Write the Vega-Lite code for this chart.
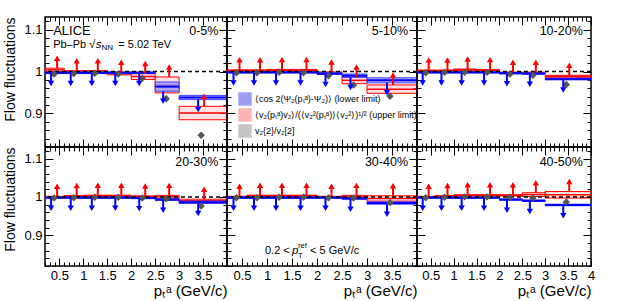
{
"$schema": "https://vega.github.io/schema/vega-lite/v6.json",
"padding": {"left": 3, "top": 14, "right": 0, "bottom": 0},
"datasets": {"d": [
{"c":"0-5%","lo":0.2,"hi":0.6,"x":0.39,"b":0.997,"bl":0.995,"bh":0.999,"r":1.004,"rl":1.0,"rh":1.008,"g":0.994},
{"c":"0-5%","lo":0.6,"hi":1.0,"x":0.8,"b":0.997,"bl":0.995,"bh":0.999,"r":1.0,"rl":0.998,"rh":1.002,"g":0.995},
{"c":"0-5%","lo":1.0,"hi":1.5,"x":1.24,"b":0.997,"bl":0.995,"bh":0.999,"r":1.0,"rl":0.998,"rh":1.002,"g":0.996},
{"c":"0-5%","lo":1.5,"hi":2.0,"x":1.73,"b":0.997,"bl":0.995,"bh":0.999,"r":0.995,"rl":0.992,"rh":0.998,"g":0.994},
{"c":"0-5%","lo":2.0,"hi":2.5,"x":2.23,"b":0.997,"bl":0.995,"bh":0.999,"r":0.988,"rl":0.981,"rh":0.995,"g":0.984},
{"c":"0-5%","lo":2.5,"hi":3.0,"x":2.73,"b":0.964,"bl":0.953,"bh":0.975,"r":0.968,"rl":0.949,"rh":0.987,"g":0.935},
{"c":"0-5%","lo":3.0,"hi":4.0,"x":3.46,"b":0.938,"bl":0.933,"bh":0.943,"r":0.901,"rl":0.885,"rh":0.917,"g":0.848},
{"c":"5-10%","lo":0.2,"hi":0.6,"x":0.39,"b":0.998,"bl":0.9965,"bh":0.9995,"r":1.002,"rl":1.0,"rh":1.004,"g":0.997},
{"c":"5-10%","lo":0.6,"hi":1.0,"x":0.8,"b":0.998,"bl":0.9965,"bh":0.9995,"r":1.002,"rl":1.0,"rh":1.004,"g":0.997},
{"c":"5-10%","lo":1.0,"hi":1.5,"x":1.24,"b":0.998,"bl":0.9965,"bh":0.9995,"r":1.003,"rl":1.001,"rh":1.005,"g":0.998},
{"c":"5-10%","lo":1.5,"hi":2.0,"x":1.73,"b":0.998,"bl":0.9965,"bh":0.9995,"r":1.003,"rl":1.001,"rh":1.005,"g":0.997},
{"c":"5-10%","lo":2.0,"hi":2.5,"x":2.23,"b":0.995,"bl":0.993,"bh":0.997,"r":0.996,"rl":0.993,"rh":0.999,"g":0.99},
{"c":"5-10%","lo":2.5,"hi":3.0,"x":2.73,"b":0.99,"bl":0.986,"bh":0.994,"r":0.979,"rl":0.971,"rh":0.987,"g":0.968},
{"c":"5-10%","lo":3.0,"hi":4.0,"x":3.46,"b":0.979,"bl":0.973,"bh":0.985,"r":0.958,"rl":0.948,"rh":0.968,"g":0.941},
{"c":"10-20%","lo":0.2,"hi":0.6,"x":0.39,"b":0.998,"bl":0.9965,"bh":0.9995,"r":1.002,"rl":1.0005,"rh":1.0035,"g":0.997},
{"c":"10-20%","lo":0.6,"hi":1.0,"x":0.8,"b":0.998,"bl":0.9965,"bh":0.9995,"r":1.002,"rl":1.0005,"rh":1.0035,"g":0.998},
{"c":"10-20%","lo":1.0,"hi":1.5,"x":1.24,"b":0.998,"bl":0.9965,"bh":0.9995,"r":1.004,"rl":1.002,"rh":1.006,"g":0.998},
{"c":"10-20%","lo":1.5,"hi":2.0,"x":1.73,"b":0.998,"bl":0.9965,"bh":0.9995,"r":1.003,"rl":1.0015,"rh":1.0045,"g":0.998},
{"c":"10-20%","lo":2.0,"hi":2.5,"x":2.23,"b":0.996,"bl":0.9945,"bh":0.9975,"r":0.997,"rl":0.9955,"rh":0.9985,"g":0.994},
{"c":"10-20%","lo":2.5,"hi":3.0,"x":2.73,"b":0.995,"bl":0.9935,"bh":0.9965,"r":0.997,"rl":0.9955,"rh":0.9985,"g":0.991},
{"c":"10-20%","lo":3.0,"hi":4.0,"x":3.46,"b":0.982,"bl":0.98,"bh":0.984,"r":0.988,"rl":0.985,"rh":0.991,"g":0.969},
{"c":"20-30%","lo":0.2,"hi":0.6,"x":0.39,"b":0.998,"bl":0.9965,"bh":0.9995,"r":1.0,"rl":0.9985,"rh":1.0015,"g":0.997},
{"c":"20-30%","lo":0.6,"hi":1.0,"x":0.8,"b":0.998,"bl":0.9965,"bh":0.9995,"r":1.002,"rl":1.0005,"rh":1.0035,"g":0.998},
{"c":"20-30%","lo":1.0,"hi":1.5,"x":1.24,"b":0.998,"bl":0.9965,"bh":0.9995,"r":1.003,"rl":1.0015,"rh":1.0045,"g":0.999},
{"c":"20-30%","lo":1.5,"hi":2.0,"x":1.73,"b":0.998,"bl":0.9965,"bh":0.9995,"r":1.003,"rl":1.0015,"rh":1.0045,"g":0.999},
{"c":"20-30%","lo":2.0,"hi":2.5,"x":2.23,"b":0.997,"bl":0.9955,"bh":0.9985,"r":1.001,"rl":0.9995,"rh":1.0025,"g":0.997},
{"c":"20-30%","lo":2.5,"hi":3.0,"x":2.73,"b":0.993,"bl":0.991,"bh":0.995,"r":1.0,"rl":0.996,"rh":1.004,"g":0.995},
{"c":"20-30%","lo":3.0,"hi":4.0,"x":3.46,"b":0.986,"bl":0.983,"bh":0.989,"r":0.99,"rl":0.986,"rh":0.994,"g":0.976},
{"c":"30-40%","lo":0.2,"hi":0.6,"x":0.39,"b":0.998,"bl":0.9965,"bh":0.9995,"r":1.0,"rl":0.9985,"rh":1.0015,"g":0.998},
{"c":"30-40%","lo":0.6,"hi":1.0,"x":0.8,"b":0.998,"bl":0.9965,"bh":0.9995,"r":1.003,"rl":1.0015,"rh":1.0045,"g":0.998},
{"c":"30-40%","lo":1.0,"hi":1.5,"x":1.24,"b":0.998,"bl":0.9965,"bh":0.9995,"r":1.003,"rl":1.0015,"rh":1.0045,"g":0.999},
{"c":"30-40%","lo":1.5,"hi":2.0,"x":1.73,"b":0.998,"bl":0.9965,"bh":0.9995,"r":1.003,"rl":1.0015,"rh":1.0045,"g":0.999},
{"c":"30-40%","lo":2.0,"hi":2.5,"x":2.23,"b":0.998,"bl":0.9965,"bh":0.9995,"r":1.0,"rl":0.9985,"rh":1.0015,"g":0.998},
{"c":"30-40%","lo":2.5,"hi":3.0,"x":2.73,"b":0.996,"bl":0.994,"bh":0.998,"r":1.0,"rl":0.996,"rh":1.004,"g":0.997},
{"c":"30-40%","lo":3.0,"hi":4.0,"x":3.46,"b":0.984,"bl":0.981,"bh":0.987,"r":0.996,"rl":0.989,"rh":1.003,"g":0.985},
{"c":"40-50%","lo":0.2,"hi":0.6,"x":0.39,"b":0.998,"bl":0.9965,"bh":0.9995,"r":1.0,"rl":0.9985,"rh":1.0015,"g":0.998},
{"c":"40-50%","lo":0.6,"hi":1.0,"x":0.8,"b":0.998,"bl":0.9965,"bh":0.9995,"r":1.002,"rl":1.0005,"rh":1.0035,"g":0.999},
{"c":"40-50%","lo":1.0,"hi":1.5,"x":1.24,"b":0.998,"bl":0.9965,"bh":0.9995,"r":1.004,"rl":1.0025,"rh":1.0055,"g":1.0},
{"c":"40-50%","lo":1.5,"hi":2.0,"x":1.73,"b":0.998,"bl":0.9965,"bh":0.9995,"r":1.004,"rl":1.0025,"rh":1.0055,"g":1.0},
{"c":"40-50%","lo":2.0,"hi":2.5,"x":2.23,"b":0.993,"bl":0.9915,"bh":0.9945,"r":1.004,"rl":1.0025,"rh":1.0055,"g":0.999},
{"c":"40-50%","lo":2.5,"hi":3.0,"x":2.73,"b":0.99,"bl":0.988,"bh":0.992,"r":1.006,"rl":1.001,"rh":1.011,"g":0.997},
{"c":"40-50%","lo":3.0,"hi":4.0,"x":3.46,"b":0.979,"bl":0.977,"bh":0.981,"r":1.0055,"rl":0.997,"rh":1.014,"g":0.987}
]},
"columns": 3,
"spacing": 0,
"bounds": "flush",
"resolve": {"scale": {"x": "independent", "y": "independent", "fill": "shared"}, "axis": {"x": "independent", "y": "independent"}, "legend": {"fill": "shared"}},
"concat": [
{
 "width": 182, "height": 130,
 "data": {"name": "d"},
 "transform": [{"filter": "datum.c == '0-5%'"}],
 "resolve": {"axis": {"x": "independent", "y": "independent"}},
 "layer": [
  {"mark": {"type": "rect", "stroke": "#ff0000", "strokeWidth": 1, "fillOpacity": 0.4},
   "encoding": {
    "x": {"field": "lo", "type": "quantitative", "scale": {"domain": [0.2, 4.0], "nice": false, "zero": false}, "axis": {"orient": "bottom", "values": [0.2,0.3,0.4,0.5,0.6,0.7,0.8,0.9,1.0,1.1,1.2,1.3,1.4,1.5,1.6,1.7,1.8,1.9,2.0,2.1,2.2,2.3,2.4,2.5,2.6,2.7,2.8,2.9,3.0,3.1,3.2,3.3,3.4,3.5,3.6,3.7,3.8,3.9,4.0], "tickSize": {"condition": {"test": "abs(datum.value*2-round(datum.value*2))<0.01", "value": -8}, "value": -4}, "labels": false, "title": null}},
    "x2": {"field": "hi"},
    "y": {"field": "rl", "type": "quantitative", "scale": {"domain": [0.82, 1.13], "nice": false, "zero": false}, "axis": {"orient": "left", "values": [0.82,0.84,0.86,0.88,0.9,0.92,0.94,0.96,0.98,1.0,1.02,1.04,1.06,1.08,1.1,1.12], "tickSize": {"condition": {"test": "abs(datum.value*10-round(datum.value*10))<0.01", "value": -8}, "value": -4}, "labelExpr": "abs(datum.value*10-round(datum.value*10))<0.01 ? format(datum.value,'~g') : ''", "labelPadding": 11, "title": "Flow fluctuations", "titleAnchor": "end", "titlePadding": 6}},
    "y2": {"field": "rh"},
    "fill": {"datum": "B", "scale": {"domain": ["A","B","C"], "range": ["#9d9df2","#ffb3b3","#c4c4c4"]}, "legend": {"title": null, "symbolType": "square", "symbolSize": 180, "symbolStrokeWidth": 0, "orient": "none", "legendX": 193, "legendY": 75, "labelFontSize": 9, "labelLimit": 400, "rowPadding": 2, "padding": 0, "labelOffset": 3, "labelExpr": "datum.label == 'A' ? '⟨cos 2(Ψ₂(pₜᵃ)-Ψ₂)⟩ (lower limit)' : datum.label == 'B' ? '⟨v₂(pₜᵃ)v₂⟩/(⟨v₂²(pₜᵃ)⟩⟨v₂²⟩)¹/² (upper limit)' : 'v₂{2}/v₂[2]'"}}}},
  {"mark": {"type": "rule", "color": "#ff0000", "strokeWidth": 1.5},
   "encoding": {
    "x": {"field": "lo", "type": "quantitative", "axis": {"orient": "top", "values": [0.2,0.3,0.4,0.5,0.6,0.7,0.8,0.9,1.0,1.1,1.2,1.3,1.4,1.5,1.6,1.7,1.8,1.9,2.0,2.1,2.2,2.3,2.4,2.5,2.6,2.7,2.8,2.9,3.0,3.1,3.2,3.3,3.4,3.5,3.6,3.7,3.8,3.9,4.0], "tickSize": {"condition": {"test": "abs(datum.value*2-round(datum.value*2))<0.01", "value": -8}, "value": -4}, "labels": false, "title": null}},
    "x2": {"field": "hi"},
    "y": {"field": "r", "type": "quantitative", "axis": {"orient": "right", "values": [0.82,0.84,0.86,0.88,0.9,0.92,0.94,0.96,0.98,1.0,1.02,1.04,1.06,1.08,1.1,1.12], "tickSize": {"condition": {"test": "abs(datum.value*10-round(datum.value*10))<0.01", "value": -8}, "value": -4}, "labels": false, "title": null}}}},
  {"mark": {"type": "rect", "stroke": "#4040ff", "strokeWidth": 1, "fillOpacity": 0.8},
   "encoding": {"x": {"field": "lo", "type": "quantitative", "axis": null}, "x2": {"field": "hi"}, "y": {"field": "bl", "type": "quantitative", "axis": null}, "y2": {"field": "bh"}, "fill": {"datum": "A", "scale": {"domain": ["A","B","C"], "range": ["#9d9df2","#ffb3b3","#c4c4c4"]}, "legend": {"title": null, "symbolType": "square", "symbolSize": 180, "symbolStrokeWidth": 0, "orient": "none", "legendX": 193, "legendY": 75, "labelFontSize": 9, "labelLimit": 400, "rowPadding": 2, "padding": 0, "labelOffset": 3, "labelExpr": "datum.label == 'A' ? '⟨cos 2(Ψ₂(pₜᵃ)-Ψ₂)⟩ (lower limit)' : datum.label == 'B' ? '⟨v₂(pₜᵃ)v₂⟩/(⟨v₂²(pₜᵃ)⟩⟨v₂²⟩)¹/² (upper limit)' : 'v₂{2}/v₂[2]'"}}}},
  {"mark": {"type": "rule", "color": "#0000ff", "strokeWidth": 2},
   "encoding": {"x": {"field": "lo", "type": "quantitative", "axis": null}, "x2": {"field": "hi"}, "y": {"field": "b", "type": "quantitative", "axis": null}}},
  {"transform": [{"filter": "datum.lo == 0.2"}], "mark": {"type": "rule", "color": "black", "strokeWidth": 1.5, "strokeDash": [4, 3]},
   "encoding": {"y": {"datum": 1, "type": "quantitative", "axis": null}}},
  {"mark": {"type": "point", "shape": "diamond", "filled": true, "size": 55, "color": "#555555", "opacity": 1},
   "encoding": {"x": {"field": "x", "type": "quantitative", "axis": null}, "y": {"field": "g", "type": "quantitative", "axis": null}}},
  {"mark": {"type": "rule", "color": "#0000ff", "strokeWidth": 2, "xOffset": -3, "y2Offset": 10},
   "encoding": {"x": {"field": "x", "type": "quantitative", "axis": null}, "y": {"field": "bl", "type": "quantitative", "axis": null}, "y2": {"field": "bl"}}},
  {"mark": {"type": "point", "shape": "triangle-down", "filled": true, "size": 40, "color": "#0000ff", "opacity": 1, "xOffset": -3, "yOffset": 10},
   "encoding": {"x": {"field": "x", "type": "quantitative", "axis": null}, "y": {"field": "bl", "type": "quantitative", "axis": null}}},
  {"mark": {"type": "rule", "color": "#ff0000", "strokeWidth": 2, "xOffset": 3, "y2Offset": -10},
   "encoding": {"x": {"field": "x", "type": "quantitative", "axis": null}, "y": {"field": "rh", "type": "quantitative", "axis": null}, "y2": {"field": "rh"}}},
  {"mark": {"type": "point", "shape": "triangle-up", "filled": true, "size": 40, "color": "#ff0000", "opacity": 1, "xOffset": 3, "yOffset": -10},
   "encoding": {"x": {"field": "x", "type": "quantitative", "axis": null}, "y": {"field": "rh", "type": "quantitative", "axis": null}}},
  {"transform": [{"filter": "datum.lo == 0.2"}], "mark": {"type": "text", "align": "right", "baseline": "middle", "fontSize": 12.5},
   "encoding": {"x": {"datum": 3.82, "type": "quantitative", "axis": null}, "y": {"datum": 1.097, "type": "quantitative", "axis": null}, "text": {"field": "c"}}},
  {"transform": [{"filter": "datum.lo == 0.2"}], "mark": {"type": "text", "align": "left", "baseline": "middle", "fontSize": 13},
   "encoding": {"x": {"datum": 0.37, "type": "quantitative", "axis": null}, "y": {"datum": 1.097, "type": "quantitative", "axis": null}, "text": {"value": "ALICE"}}},
  {"transform": [{"filter": "datum.lo == 0.2"}], "mark": {"type": "text", "align": "left", "baseline": "middle", "fontSize": 11},
   "encoding": {"x": {"datum": 0.37, "type": "quantitative", "axis": null}, "y": {"datum": 1.063, "type": "quantitative", "axis": null}, "text": {"value": "Pb–Pb"}}},
  {"transform": [{"filter": "datum.lo == 0.2"}], "mark": {"type": "text", "align": "left", "baseline": "middle", "fontSize": 11.5},
   "encoding": {"x": {"datum": 1.12, "type": "quantitative", "axis": null}, "y": {"datum": 1.063, "type": "quantitative", "axis": null}, "text": {"value": "√"}}},
  {"transform": [{"filter": "datum.lo == 0.2"}], "mark": {"type": "text", "align": "left", "baseline": "middle", "fontSize": 11.5, "fontStyle": "italic"},
   "encoding": {"x": {"datum": 1.26, "type": "quantitative", "axis": null}, "y": {"datum": 1.063, "type": "quantitative", "axis": null}, "text": {"value": "s"}}},
  {"transform": [{"filter": "datum.lo == 0.2"}], "mark": {"type": "text", "align": "left", "baseline": "middle", "fontSize": 8, "dy": 3},
   "encoding": {"x": {"datum": 1.38, "type": "quantitative", "axis": null}, "y": {"datum": 1.063, "type": "quantitative", "axis": null}, "text": {"value": "NN"}}},
  {"transform": [{"filter": "datum.lo == 0.2"}], "mark": {"type": "text", "align": "left", "baseline": "middle", "fontSize": 11},
   "encoding": {"x": {"datum": 1.73, "type": "quantitative", "axis": null}, "y": {"datum": 1.063, "type": "quantitative", "axis": null}, "text": {"value": "= 5.02 TeV"}}}
 ]
},
{
 "width": 190, "height": 130,
 "data": {"name": "d"},
 "transform": [{"filter": "datum.c == '5-10%'"}],
 "resolve": {"axis": {"x": "independent", "y": "independent"}},
 "layer": [
  {"mark": {"type": "rect", "stroke": "#ff0000", "strokeWidth": 1, "fillOpacity": 0.4},
   "encoding": {
    "x": {"field": "lo", "type": "quantitative", "scale": {"domain": [0.2, 4.0], "nice": false, "zero": false}, "axis": {"orient": "bottom", "values": [0.2,0.3,0.4,0.5,0.6,0.7,0.8,0.9,1.0,1.1,1.2,1.3,1.4,1.5,1.6,1.7,1.8,1.9,2.0,2.1,2.2,2.3,2.4,2.5,2.6,2.7,2.8,2.9,3.0,3.1,3.2,3.3,3.4,3.5,3.6,3.7,3.8,3.9,4.0], "tickSize": {"condition": {"test": "abs(datum.value*2-round(datum.value*2))<0.01", "value": -8}, "value": -4}, "labels": false, "title": null}},
    "x2": {"field": "hi"},
    "y": {"field": "rl", "type": "quantitative", "scale": {"domain": [0.82, 1.13], "nice": false, "zero": false}, "axis": {"orient": "left", "values": [0.82,0.84,0.86,0.88,0.9,0.92,0.94,0.96,0.98,1.0,1.02,1.04,1.06,1.08,1.1,1.12], "tickSize": {"condition": {"test": "abs(datum.value*10-round(datum.value*10))<0.01", "value": -8}, "value": -4}, "labels": false, "title": null}},
    "y2": {"field": "rh"},
    "fill": {"datum": "B", "scale": {"domain": ["A","B","C"], "range": ["#9d9df2","#ffb3b3","#c4c4c4"]}, "legend": {"title": null, "symbolType": "square", "symbolSize": 180, "symbolStrokeWidth": 0, "orient": "none", "legendX": 193, "legendY": 75, "labelFontSize": 9, "labelLimit": 400, "rowPadding": 2, "padding": 0, "labelOffset": 3, "labelExpr": "datum.label == 'A' ? '⟨cos 2(Ψ₂(pₜᵃ)-Ψ₂)⟩ (lower limit)' : datum.label == 'B' ? '⟨v₂(pₜᵃ)v₂⟩/(⟨v₂²(pₜᵃ)⟩⟨v₂²⟩)¹/² (upper limit)' : 'v₂{2}/v₂[2]'"}}}},
  {"mark": {"type": "rule", "color": "#ff0000", "strokeWidth": 1.5},
   "encoding": {
    "x": {"field": "lo", "type": "quantitative", "axis": {"orient": "top", "values": [0.2,0.3,0.4,0.5,0.6,0.7,0.8,0.9,1.0,1.1,1.2,1.3,1.4,1.5,1.6,1.7,1.8,1.9,2.0,2.1,2.2,2.3,2.4,2.5,2.6,2.7,2.8,2.9,3.0,3.1,3.2,3.3,3.4,3.5,3.6,3.7,3.8,3.9,4.0], "tickSize": {"condition": {"test": "abs(datum.value*2-round(datum.value*2))<0.01", "value": -8}, "value": -4}, "labels": false, "title": null}},
    "x2": {"field": "hi"},
    "y": {"field": "r", "type": "quantitative", "axis": {"orient": "right", "values": [0.82,0.84,0.86,0.88,0.9,0.92,0.94,0.96,0.98,1.0,1.02,1.04,1.06,1.08,1.1,1.12], "tickSize": {"condition": {"test": "abs(datum.value*10-round(datum.value*10))<0.01", "value": -8}, "value": -4}, "labels": false, "title": null}}}},
  {"mark": {"type": "rect", "stroke": "#4040ff", "strokeWidth": 1, "fillOpacity": 0.8},
   "encoding": {"x": {"field": "lo", "type": "quantitative", "axis": null}, "x2": {"field": "hi"}, "y": {"field": "bl", "type": "quantitative", "axis": null}, "y2": {"field": "bh"}, "fill": {"datum": "A", "scale": {"domain": ["A","B","C"], "range": ["#9d9df2","#ffb3b3","#c4c4c4"]}, "legend": {"title": null, "symbolType": "square", "symbolSize": 180, "symbolStrokeWidth": 0, "orient": "none", "legendX": 193, "legendY": 75, "labelFontSize": 9, "labelLimit": 400, "rowPadding": 2, "padding": 0, "labelOffset": 3, "labelExpr": "datum.label == 'A' ? '⟨cos 2(Ψ₂(pₜᵃ)-Ψ₂)⟩ (lower limit)' : datum.label == 'B' ? '⟨v₂(pₜᵃ)v₂⟩/(⟨v₂²(pₜᵃ)⟩⟨v₂²⟩)¹/² (upper limit)' : 'v₂{2}/v₂[2]'"}}}},
  {"mark": {"type": "rule", "color": "#0000ff", "strokeWidth": 2},
   "encoding": {"x": {"field": "lo", "type": "quantitative", "axis": null}, "x2": {"field": "hi"}, "y": {"field": "b", "type": "quantitative", "axis": null}}},
  {"transform": [{"filter": "datum.lo == 0.2"}], "mark": {"type": "rule", "color": "black", "strokeWidth": 1.5, "strokeDash": [4, 3]},
   "encoding": {"y": {"datum": 1, "type": "quantitative", "axis": null}}},
  {"mark": {"type": "point", "shape": "diamond", "filled": true, "size": 55, "color": "#555555", "opacity": 1},
   "encoding": {"x": {"field": "x", "type": "quantitative", "axis": null}, "y": {"field": "g", "type": "quantitative", "axis": null}}},
  {"mark": {"type": "rule", "color": "#0000ff", "strokeWidth": 2, "xOffset": -3, "y2Offset": 10},
   "encoding": {"x": {"field": "x", "type": "quantitative", "axis": null}, "y": {"field": "bl", "type": "quantitative", "axis": null}, "y2": {"field": "bl"}}},
  {"mark": {"type": "point", "shape": "triangle-down", "filled": true, "size": 40, "color": "#0000ff", "opacity": 1, "xOffset": -3, "yOffset": 10},
   "encoding": {"x": {"field": "x", "type": "quantitative", "axis": null}, "y": {"field": "bl", "type": "quantitative", "axis": null}}},
  {"mark": {"type": "rule", "color": "#ff0000", "strokeWidth": 2, "xOffset": 3, "y2Offset": -10},
   "encoding": {"x": {"field": "x", "type": "quantitative", "axis": null}, "y": {"field": "rh", "type": "quantitative", "axis": null}, "y2": {"field": "rh"}}},
  {"mark": {"type": "point", "shape": "triangle-up", "filled": true, "size": 40, "color": "#ff0000", "opacity": 1, "xOffset": 3, "yOffset": -10},
   "encoding": {"x": {"field": "x", "type": "quantitative", "axis": null}, "y": {"field": "rh", "type": "quantitative", "axis": null}}},
  {"transform": [{"filter": "datum.lo == 0.2"}], "mark": {"type": "text", "align": "right", "baseline": "middle", "fontSize": 12.5},
   "encoding": {"x": {"datum": 3.82, "type": "quantitative", "axis": null}, "y": {"datum": 1.097, "type": "quantitative", "axis": null}, "text": {"field": "c"}}}
 ]
},
{
 "width": 174, "height": 130,
 "data": {"name": "d"},
 "transform": [{"filter": "datum.c == '10-20%'"}],
 "resolve": {"axis": {"x": "independent", "y": "independent"}},
 "layer": [
  {"mark": {"type": "rect", "stroke": "#ff0000", "strokeWidth": 1, "fillOpacity": 0.4},
   "encoding": {
    "x": {"field": "lo", "type": "quantitative", "scale": {"domain": [0.2, 4.0], "nice": false, "zero": false}, "axis": {"orient": "bottom", "values": [0.2,0.3,0.4,0.5,0.6,0.7,0.8,0.9,1.0,1.1,1.2,1.3,1.4,1.5,1.6,1.7,1.8,1.9,2.0,2.1,2.2,2.3,2.4,2.5,2.6,2.7,2.8,2.9,3.0,3.1,3.2,3.3,3.4,3.5,3.6,3.7,3.8,3.9,4.0], "tickSize": {"condition": {"test": "abs(datum.value*2-round(datum.value*2))<0.01", "value": -8}, "value": -4}, "labels": false, "title": null}},
    "x2": {"field": "hi"},
    "y": {"field": "rl", "type": "quantitative", "scale": {"domain": [0.82, 1.13], "nice": false, "zero": false}, "axis": {"orient": "left", "values": [0.82,0.84,0.86,0.88,0.9,0.92,0.94,0.96,0.98,1.0,1.02,1.04,1.06,1.08,1.1,1.12], "tickSize": {"condition": {"test": "abs(datum.value*10-round(datum.value*10))<0.01", "value": -8}, "value": -4}, "labels": false, "title": null}},
    "y2": {"field": "rh"},
    "fill": {"datum": "B", "scale": {"domain": ["A","B","C"], "range": ["#9d9df2","#ffb3b3","#c4c4c4"]}, "legend": {"title": null, "symbolType": "square", "symbolSize": 180, "symbolStrokeWidth": 0, "orient": "none", "legendX": 193, "legendY": 75, "labelFontSize": 9, "labelLimit": 400, "rowPadding": 2, "padding": 0, "labelOffset": 3, "labelExpr": "datum.label == 'A' ? '⟨cos 2(Ψ₂(pₜᵃ)-Ψ₂)⟩ (lower limit)' : datum.label == 'B' ? '⟨v₂(pₜᵃ)v₂⟩/(⟨v₂²(pₜᵃ)⟩⟨v₂²⟩)¹/² (upper limit)' : 'v₂{2}/v₂[2]'"}}}},
  {"mark": {"type": "rule", "color": "#ff0000", "strokeWidth": 1.5},
   "encoding": {
    "x": {"field": "lo", "type": "quantitative", "axis": {"orient": "top", "values": [0.2,0.3,0.4,0.5,0.6,0.7,0.8,0.9,1.0,1.1,1.2,1.3,1.4,1.5,1.6,1.7,1.8,1.9,2.0,2.1,2.2,2.3,2.4,2.5,2.6,2.7,2.8,2.9,3.0,3.1,3.2,3.3,3.4,3.5,3.6,3.7,3.8,3.9,4.0], "tickSize": {"condition": {"test": "abs(datum.value*2-round(datum.value*2))<0.01", "value": -8}, "value": -4}, "labels": false, "title": null}},
    "x2": {"field": "hi"},
    "y": {"field": "r", "type": "quantitative", "axis": {"orient": "right", "values": [0.82,0.84,0.86,0.88,0.9,0.92,0.94,0.96,0.98,1.0,1.02,1.04,1.06,1.08,1.1,1.12], "tickSize": {"condition": {"test": "abs(datum.value*10-round(datum.value*10))<0.01", "value": -8}, "value": -4}, "labels": false, "title": null}}}},
  {"mark": {"type": "rect", "stroke": "#4040ff", "strokeWidth": 1, "fillOpacity": 0.8},
   "encoding": {"x": {"field": "lo", "type": "quantitative", "axis": null}, "x2": {"field": "hi"}, "y": {"field": "bl", "type": "quantitative", "axis": null}, "y2": {"field": "bh"}, "fill": {"datum": "A", "scale": {"domain": ["A","B","C"], "range": ["#9d9df2","#ffb3b3","#c4c4c4"]}, "legend": {"title": null, "symbolType": "square", "symbolSize": 180, "symbolStrokeWidth": 0, "orient": "none", "legendX": 193, "legendY": 75, "labelFontSize": 9, "labelLimit": 400, "rowPadding": 2, "padding": 0, "labelOffset": 3, "labelExpr": "datum.label == 'A' ? '⟨cos 2(Ψ₂(pₜᵃ)-Ψ₂)⟩ (lower limit)' : datum.label == 'B' ? '⟨v₂(pₜᵃ)v₂⟩/(⟨v₂²(pₜᵃ)⟩⟨v₂²⟩)¹/² (upper limit)' : 'v₂{2}/v₂[2]'"}}}},
  {"mark": {"type": "rule", "color": "#0000ff", "strokeWidth": 2},
   "encoding": {"x": {"field": "lo", "type": "quantitative", "axis": null}, "x2": {"field": "hi"}, "y": {"field": "b", "type": "quantitative", "axis": null}}},
  {"transform": [{"filter": "datum.lo == 0.2"}], "mark": {"type": "rule", "color": "black", "strokeWidth": 1.5, "strokeDash": [4, 3]},
   "encoding": {"y": {"datum": 1, "type": "quantitative", "axis": null}}},
  {"mark": {"type": "point", "shape": "diamond", "filled": true, "size": 55, "color": "#555555", "opacity": 1},
   "encoding": {"x": {"field": "x", "type": "quantitative", "axis": null}, "y": {"field": "g", "type": "quantitative", "axis": null}}},
  {"mark": {"type": "rule", "color": "#0000ff", "strokeWidth": 2, "xOffset": -3, "y2Offset": 10},
   "encoding": {"x": {"field": "x", "type": "quantitative", "axis": null}, "y": {"field": "bl", "type": "quantitative", "axis": null}, "y2": {"field": "bl"}}},
  {"mark": {"type": "point", "shape": "triangle-down", "filled": true, "size": 40, "color": "#0000ff", "opacity": 1, "xOffset": -3, "yOffset": 10},
   "encoding": {"x": {"field": "x", "type": "quantitative", "axis": null}, "y": {"field": "bl", "type": "quantitative", "axis": null}}},
  {"mark": {"type": "rule", "color": "#ff0000", "strokeWidth": 2, "xOffset": 3, "y2Offset": -10},
   "encoding": {"x": {"field": "x", "type": "quantitative", "axis": null}, "y": {"field": "rh", "type": "quantitative", "axis": null}, "y2": {"field": "rh"}}},
  {"mark": {"type": "point", "shape": "triangle-up", "filled": true, "size": 40, "color": "#ff0000", "opacity": 1, "xOffset": 3, "yOffset": -10},
   "encoding": {"x": {"field": "x", "type": "quantitative", "axis": null}, "y": {"field": "rh", "type": "quantitative", "axis": null}}},
  {"transform": [{"filter": "datum.lo == 0.2"}], "mark": {"type": "text", "align": "right", "baseline": "middle", "fontSize": 12.5},
   "encoding": {"x": {"datum": 3.82, "type": "quantitative", "axis": null}, "y": {"datum": 1.097, "type": "quantitative", "axis": null}, "text": {"field": "c"}}}
 ]
},
{
 "width": 182, "height": 119,
 "data": {"name": "d"},
 "transform": [{"filter": "datum.c == '20-30%'"}],
 "resolve": {"axis": {"x": "independent", "y": "independent"}},
 "layer": [
  {"mark": {"type": "rect", "stroke": "#ff0000", "strokeWidth": 1, "fillOpacity": 0.4},
   "encoding": {
    "x": {"field": "lo", "type": "quantitative", "scale": {"domain": [0.2, 4.0], "nice": false, "zero": false}, "axis": {"orient": "bottom", "values": [0.2,0.3,0.4,0.5,0.6,0.7,0.8,0.9,1.0,1.1,1.2,1.3,1.4,1.5,1.6,1.7,1.8,1.9,2.0,2.1,2.2,2.3,2.4,2.5,2.6,2.7,2.8,2.9,3.0,3.1,3.2,3.3,3.4,3.5,3.6,3.7,3.8,3.9,4.0], "tickSize": {"condition": {"test": "abs(datum.value*2-round(datum.value*2))<0.01", "value": -8}, "value": -4}, "labelExpr": "abs(datum.value*2-round(datum.value*2))<0.01 && datum.value<3.9 ? format(datum.value,'~g') : ''", "labelPadding": 11, "title": "pₜᵃ (GeV/c)", "titleFontSize": 15, "titleAnchor": "end", "titlePadding": -3}},
    "x2": {"field": "hi"},
    "y": {"field": "rl", "type": "quantitative", "scale": {"domain": [0.82, 1.13], "nice": false, "zero": false}, "axis": {"orient": "left", "values": [0.82,0.84,0.86,0.88,0.9,0.92,0.94,0.96,0.98,1.0,1.02,1.04,1.06,1.08,1.1,1.12], "tickSize": {"condition": {"test": "abs(datum.value*10-round(datum.value*10))<0.01", "value": -8}, "value": -4}, "labelExpr": "abs(datum.value*10-round(datum.value*10))<0.01 ? format(datum.value,'~g') : ''", "labelPadding": 11, "title": "Flow fluctuations", "titleAnchor": "end", "titlePadding": 6}},
    "y2": {"field": "rh"},
    "fill": {"datum": "B", "scale": {"domain": ["A","B","C"], "range": ["#9d9df2","#ffb3b3","#c4c4c4"]}, "legend": {"title": null, "symbolType": "square", "symbolSize": 180, "symbolStrokeWidth": 0, "orient": "none", "legendX": 193, "legendY": 75, "labelFontSize": 9, "labelLimit": 400, "rowPadding": 2, "padding": 0, "labelOffset": 3, "labelExpr": "datum.label == 'A' ? '⟨cos 2(Ψ₂(pₜᵃ)-Ψ₂)⟩ (lower limit)' : datum.label == 'B' ? '⟨v₂(pₜᵃ)v₂⟩/(⟨v₂²(pₜᵃ)⟩⟨v₂²⟩)¹/² (upper limit)' : 'v₂{2}/v₂[2]'"}}}},
  {"mark": {"type": "rule", "color": "#ff0000", "strokeWidth": 1.5},
   "encoding": {
    "x": {"field": "lo", "type": "quantitative", "axis": {"orient": "top", "values": [0.2,0.3,0.4,0.5,0.6,0.7,0.8,0.9,1.0,1.1,1.2,1.3,1.4,1.5,1.6,1.7,1.8,1.9,2.0,2.1,2.2,2.3,2.4,2.5,2.6,2.7,2.8,2.9,3.0,3.1,3.2,3.3,3.4,3.5,3.6,3.7,3.8,3.9,4.0], "tickSize": {"condition": {"test": "abs(datum.value*2-round(datum.value*2))<0.01", "value": -8}, "value": -4}, "labels": false, "title": null}},
    "x2": {"field": "hi"},
    "y": {"field": "r", "type": "quantitative", "axis": {"orient": "right", "values": [0.82,0.84,0.86,0.88,0.9,0.92,0.94,0.96,0.98,1.0,1.02,1.04,1.06,1.08,1.1,1.12], "tickSize": {"condition": {"test": "abs(datum.value*10-round(datum.value*10))<0.01", "value": -8}, "value": -4}, "labels": false, "title": null}}}},
  {"mark": {"type": "rect", "stroke": "#4040ff", "strokeWidth": 1, "fillOpacity": 0.8},
   "encoding": {"x": {"field": "lo", "type": "quantitative", "axis": null}, "x2": {"field": "hi"}, "y": {"field": "bl", "type": "quantitative", "axis": null}, "y2": {"field": "bh"}, "fill": {"datum": "A", "scale": {"domain": ["A","B","C"], "range": ["#9d9df2","#ffb3b3","#c4c4c4"]}, "legend": {"title": null, "symbolType": "square", "symbolSize": 180, "symbolStrokeWidth": 0, "orient": "none", "legendX": 193, "legendY": 75, "labelFontSize": 9, "labelLimit": 400, "rowPadding": 2, "padding": 0, "labelOffset": 3, "labelExpr": "datum.label == 'A' ? '⟨cos 2(Ψ₂(pₜᵃ)-Ψ₂)⟩ (lower limit)' : datum.label == 'B' ? '⟨v₂(pₜᵃ)v₂⟩/(⟨v₂²(pₜᵃ)⟩⟨v₂²⟩)¹/² (upper limit)' : 'v₂{2}/v₂[2]'"}}}},
  {"mark": {"type": "rule", "color": "#0000ff", "strokeWidth": 2},
   "encoding": {"x": {"field": "lo", "type": "quantitative", "axis": null}, "x2": {"field": "hi"}, "y": {"field": "b", "type": "quantitative", "axis": null}}},
  {"transform": [{"filter": "datum.lo == 0.2"}], "mark": {"type": "rule", "color": "black", "strokeWidth": 1.5, "strokeDash": [4, 3]},
   "encoding": {"y": {"datum": 1, "type": "quantitative", "axis": null}}},
  {"mark": {"type": "point", "shape": "diamond", "filled": true, "size": 55, "color": "#555555", "opacity": 1},
   "encoding": {"x": {"field": "x", "type": "quantitative", "axis": null}, "y": {"field": "g", "type": "quantitative", "axis": null}}},
  {"mark": {"type": "rule", "color": "#0000ff", "strokeWidth": 2, "xOffset": -3, "y2Offset": 10},
   "encoding": {"x": {"field": "x", "type": "quantitative", "axis": null}, "y": {"field": "bl", "type": "quantitative", "axis": null}, "y2": {"field": "bl"}}},
  {"mark": {"type": "point", "shape": "triangle-down", "filled": true, "size": 40, "color": "#0000ff", "opacity": 1, "xOffset": -3, "yOffset": 10},
   "encoding": {"x": {"field": "x", "type": "quantitative", "axis": null}, "y": {"field": "bl", "type": "quantitative", "axis": null}}},
  {"mark": {"type": "rule", "color": "#ff0000", "strokeWidth": 2, "xOffset": 3, "y2Offset": -10},
   "encoding": {"x": {"field": "x", "type": "quantitative", "axis": null}, "y": {"field": "rh", "type": "quantitative", "axis": null}, "y2": {"field": "rh"}}},
  {"mark": {"type": "point", "shape": "triangle-up", "filled": true, "size": 40, "color": "#ff0000", "opacity": 1, "xOffset": 3, "yOffset": -10},
   "encoding": {"x": {"field": "x", "type": "quantitative", "axis": null}, "y": {"field": "rh", "type": "quantitative", "axis": null}}},
  {"transform": [{"filter": "datum.lo == 0.2"}], "mark": {"type": "text", "align": "right", "baseline": "middle", "fontSize": 12.5},
   "encoding": {"x": {"datum": 3.82, "type": "quantitative", "axis": null}, "y": {"datum": 1.091, "type": "quantitative", "axis": null}, "text": {"field": "c"}}}
 ]
},
{
 "width": 190, "height": 119,
 "data": {"name": "d"},
 "transform": [{"filter": "datum.c == '30-40%'"}],
 "resolve": {"axis": {"x": "independent", "y": "independent"}},
 "layer": [
  {"mark": {"type": "rect", "stroke": "#ff0000", "strokeWidth": 1, "fillOpacity": 0.4},
   "encoding": {
    "x": {"field": "lo", "type": "quantitative", "scale": {"domain": [0.2, 4.0], "nice": false, "zero": false}, "axis": {"orient": "bottom", "values": [0.2,0.3,0.4,0.5,0.6,0.7,0.8,0.9,1.0,1.1,1.2,1.3,1.4,1.5,1.6,1.7,1.8,1.9,2.0,2.1,2.2,2.3,2.4,2.5,2.6,2.7,2.8,2.9,3.0,3.1,3.2,3.3,3.4,3.5,3.6,3.7,3.8,3.9,4.0], "tickSize": {"condition": {"test": "abs(datum.value*2-round(datum.value*2))<0.01", "value": -8}, "value": -4}, "labelExpr": "abs(datum.value*2-round(datum.value*2))<0.01 && datum.value<3.9 ? format(datum.value,'~g') : ''", "labelPadding": 11, "title": "pₜᵃ (GeV/c)", "titleFontSize": 15, "titleAnchor": "end", "titlePadding": -3}},
    "x2": {"field": "hi"},
    "y": {"field": "rl", "type": "quantitative", "scale": {"domain": [0.82, 1.13], "nice": false, "zero": false}, "axis": {"orient": "left", "values": [0.82,0.84,0.86,0.88,0.9,0.92,0.94,0.96,0.98,1.0,1.02,1.04,1.06,1.08,1.1,1.12], "tickSize": {"condition": {"test": "abs(datum.value*10-round(datum.value*10))<0.01", "value": -8}, "value": -4}, "labels": false, "title": null}},
    "y2": {"field": "rh"},
    "fill": {"datum": "B", "scale": {"domain": ["A","B","C"], "range": ["#9d9df2","#ffb3b3","#c4c4c4"]}, "legend": {"title": null, "symbolType": "square", "symbolSize": 180, "symbolStrokeWidth": 0, "orient": "none", "legendX": 193, "legendY": 75, "labelFontSize": 9, "labelLimit": 400, "rowPadding": 2, "padding": 0, "labelOffset": 3, "labelExpr": "datum.label == 'A' ? '⟨cos 2(Ψ₂(pₜᵃ)-Ψ₂)⟩ (lower limit)' : datum.label == 'B' ? '⟨v₂(pₜᵃ)v₂⟩/(⟨v₂²(pₜᵃ)⟩⟨v₂²⟩)¹/² (upper limit)' : 'v₂{2}/v₂[2]'"}}}},
  {"mark": {"type": "rule", "color": "#ff0000", "strokeWidth": 1.5},
   "encoding": {
    "x": {"field": "lo", "type": "quantitative", "axis": {"orient": "top", "values": [0.2,0.3,0.4,0.5,0.6,0.7,0.8,0.9,1.0,1.1,1.2,1.3,1.4,1.5,1.6,1.7,1.8,1.9,2.0,2.1,2.2,2.3,2.4,2.5,2.6,2.7,2.8,2.9,3.0,3.1,3.2,3.3,3.4,3.5,3.6,3.7,3.8,3.9,4.0], "tickSize": {"condition": {"test": "abs(datum.value*2-round(datum.value*2))<0.01", "value": -8}, "value": -4}, "labels": false, "title": null}},
    "x2": {"field": "hi"},
    "y": {"field": "r", "type": "quantitative", "axis": {"orient": "right", "values": [0.82,0.84,0.86,0.88,0.9,0.92,0.94,0.96,0.98,1.0,1.02,1.04,1.06,1.08,1.1,1.12], "tickSize": {"condition": {"test": "abs(datum.value*10-round(datum.value*10))<0.01", "value": -8}, "value": -4}, "labels": false, "title": null}}}},
  {"mark": {"type": "rect", "stroke": "#4040ff", "strokeWidth": 1, "fillOpacity": 0.8},
   "encoding": {"x": {"field": "lo", "type": "quantitative", "axis": null}, "x2": {"field": "hi"}, "y": {"field": "bl", "type": "quantitative", "axis": null}, "y2": {"field": "bh"}, "fill": {"datum": "A", "scale": {"domain": ["A","B","C"], "range": ["#9d9df2","#ffb3b3","#c4c4c4"]}, "legend": {"title": null, "symbolType": "square", "symbolSize": 180, "symbolStrokeWidth": 0, "orient": "none", "legendX": 193, "legendY": 75, "labelFontSize": 9, "labelLimit": 400, "rowPadding": 2, "padding": 0, "labelOffset": 3, "labelExpr": "datum.label == 'A' ? '⟨cos 2(Ψ₂(pₜᵃ)-Ψ₂)⟩ (lower limit)' : datum.label == 'B' ? '⟨v₂(pₜᵃ)v₂⟩/(⟨v₂²(pₜᵃ)⟩⟨v₂²⟩)¹/² (upper limit)' : 'v₂{2}/v₂[2]'"}}}},
  {"mark": {"type": "rule", "color": "#0000ff", "strokeWidth": 2},
   "encoding": {"x": {"field": "lo", "type": "quantitative", "axis": null}, "x2": {"field": "hi"}, "y": {"field": "b", "type": "quantitative", "axis": null}}},
  {"transform": [{"filter": "datum.lo == 0.2"}], "mark": {"type": "rule", "color": "black", "strokeWidth": 1.5, "strokeDash": [4, 3]},
   "encoding": {"y": {"datum": 1, "type": "quantitative", "axis": null}}},
  {"mark": {"type": "point", "shape": "diamond", "filled": true, "size": 55, "color": "#555555", "opacity": 1},
   "encoding": {"x": {"field": "x", "type": "quantitative", "axis": null}, "y": {"field": "g", "type": "quantitative", "axis": null}}},
  {"mark": {"type": "rule", "color": "#0000ff", "strokeWidth": 2, "xOffset": -3, "y2Offset": 10},
   "encoding": {"x": {"field": "x", "type": "quantitative", "axis": null}, "y": {"field": "bl", "type": "quantitative", "axis": null}, "y2": {"field": "bl"}}},
  {"mark": {"type": "point", "shape": "triangle-down", "filled": true, "size": 40, "color": "#0000ff", "opacity": 1, "xOffset": -3, "yOffset": 10},
   "encoding": {"x": {"field": "x", "type": "quantitative", "axis": null}, "y": {"field": "bl", "type": "quantitative", "axis": null}}},
  {"mark": {"type": "rule", "color": "#ff0000", "strokeWidth": 2, "xOffset": 3, "y2Offset": -10},
   "encoding": {"x": {"field": "x", "type": "quantitative", "axis": null}, "y": {"field": "rh", "type": "quantitative", "axis": null}, "y2": {"field": "rh"}}},
  {"mark": {"type": "point", "shape": "triangle-up", "filled": true, "size": 40, "color": "#ff0000", "opacity": 1, "xOffset": 3, "yOffset": -10},
   "encoding": {"x": {"field": "x", "type": "quantitative", "axis": null}, "y": {"field": "rh", "type": "quantitative", "axis": null}}},
  {"transform": [{"filter": "datum.lo == 0.2"}], "mark": {"type": "text", "align": "right", "baseline": "middle", "fontSize": 12.5},
   "encoding": {"x": {"datum": 3.82, "type": "quantitative", "axis": null}, "y": {"datum": 1.091, "type": "quantitative", "axis": null}, "text": {"field": "c"}}},
  {"transform": [{"filter": "datum.lo == 0.2"}], "mark": {"type": "text", "align": "left", "baseline": "middle", "fontSize": 11},
   "encoding": {"x": {"datum": 0.96, "type": "quantitative", "axis": null}, "y": {"datum": 0.859, "type": "quantitative", "axis": null}, "text": {"value": "0.2 <"}}},
  {"transform": [{"filter": "datum.lo == 0.2"}], "mark": {"type": "text", "align": "left", "baseline": "middle", "fontSize": 11.5, "fontStyle": "italic"},
   "encoding": {"x": {"datum": 1.5, "type": "quantitative", "axis": null}, "y": {"datum": 0.859, "type": "quantitative", "axis": null}, "text": {"value": "p"}}},
  {"transform": [{"filter": "datum.lo == 0.2"}], "mark": {"type": "text", "align": "left", "baseline": "middle", "fontSize": 7.5, "dy": -5},
   "encoding": {"x": {"datum": 1.62, "type": "quantitative", "axis": null}, "y": {"datum": 0.859, "type": "quantitative", "axis": null}, "text": {"value": "ref"}}},
  {"transform": [{"filter": "datum.lo == 0.2"}], "mark": {"type": "text", "align": "left", "baseline": "middle", "fontSize": 7.5, "dy": 5},
   "encoding": {"x": {"datum": 1.62, "type": "quantitative", "axis": null}, "y": {"datum": 0.859, "type": "quantitative", "axis": null}, "text": {"value": "T"}}},
  {"transform": [{"filter": "datum.lo == 0.2"}], "mark": {"type": "text", "align": "left", "baseline": "middle", "fontSize": 11},
   "encoding": {"x": {"datum": 1.86, "type": "quantitative", "axis": null}, "y": {"datum": 0.859, "type": "quantitative", "axis": null}, "text": {"value": "< 5 GeV/c"}}}
 ]
},
{
 "width": 174, "height": 119,
 "data": {"name": "d"},
 "transform": [{"filter": "datum.c == '40-50%'"}],
 "resolve": {"axis": {"x": "independent", "y": "independent"}},
 "layer": [
  {"mark": {"type": "rect", "stroke": "#ff0000", "strokeWidth": 1, "fillOpacity": 0.4},
   "encoding": {
    "x": {"field": "lo", "type": "quantitative", "scale": {"domain": [0.2, 4.0], "nice": false, "zero": false}, "axis": {"orient": "bottom", "values": [0.2,0.3,0.4,0.5,0.6,0.7,0.8,0.9,1.0,1.1,1.2,1.3,1.4,1.5,1.6,1.7,1.8,1.9,2.0,2.1,2.2,2.3,2.4,2.5,2.6,2.7,2.8,2.9,3.0,3.1,3.2,3.3,3.4,3.5,3.6,3.7,3.8,3.9,4.0], "tickSize": {"condition": {"test": "abs(datum.value*2-round(datum.value*2))<0.01", "value": -8}, "value": -4}, "labelExpr": "abs(datum.value*2-round(datum.value*2))<0.01 ? format(datum.value,'~g') : ''", "labelPadding": 11, "title": "pₜᵃ (GeV/c)", "titleFontSize": 15, "titleAnchor": "end", "titlePadding": -3}},
    "x2": {"field": "hi"},
    "y": {"field": "rl", "type": "quantitative", "scale": {"domain": [0.82, 1.13], "nice": false, "zero": false}, "axis": {"orient": "left", "values": [0.82,0.84,0.86,0.88,0.9,0.92,0.94,0.96,0.98,1.0,1.02,1.04,1.06,1.08,1.1,1.12], "tickSize": {"condition": {"test": "abs(datum.value*10-round(datum.value*10))<0.01", "value": -8}, "value": -4}, "labels": false, "title": null}},
    "y2": {"field": "rh"},
    "fill": {"datum": "B", "scale": {"domain": ["A","B","C"], "range": ["#9d9df2","#ffb3b3","#c4c4c4"]}, "legend": {"title": null, "symbolType": "square", "symbolSize": 180, "symbolStrokeWidth": 0, "orient": "none", "legendX": 193, "legendY": 75, "labelFontSize": 9, "labelLimit": 400, "rowPadding": 2, "padding": 0, "labelOffset": 3, "labelExpr": "datum.label == 'A' ? '⟨cos 2(Ψ₂(pₜᵃ)-Ψ₂)⟩ (lower limit)' : datum.label == 'B' ? '⟨v₂(pₜᵃ)v₂⟩/(⟨v₂²(pₜᵃ)⟩⟨v₂²⟩)¹/² (upper limit)' : 'v₂{2}/v₂[2]'"}}}},
  {"mark": {"type": "rule", "color": "#ff0000", "strokeWidth": 1.5},
   "encoding": {
    "x": {"field": "lo", "type": "quantitative", "axis": {"orient": "top", "values": [0.2,0.3,0.4,0.5,0.6,0.7,0.8,0.9,1.0,1.1,1.2,1.3,1.4,1.5,1.6,1.7,1.8,1.9,2.0,2.1,2.2,2.3,2.4,2.5,2.6,2.7,2.8,2.9,3.0,3.1,3.2,3.3,3.4,3.5,3.6,3.7,3.8,3.9,4.0], "tickSize": {"condition": {"test": "abs(datum.value*2-round(datum.value*2))<0.01", "value": -8}, "value": -4}, "labels": false, "title": null}},
    "x2": {"field": "hi"},
    "y": {"field": "r", "type": "quantitative", "axis": {"orient": "right", "values": [0.82,0.84,0.86,0.88,0.9,0.92,0.94,0.96,0.98,1.0,1.02,1.04,1.06,1.08,1.1,1.12], "tickSize": {"condition": {"test": "abs(datum.value*10-round(datum.value*10))<0.01", "value": -8}, "value": -4}, "labels": false, "title": null}}}},
  {"mark": {"type": "rect", "stroke": "#4040ff", "strokeWidth": 1, "fillOpacity": 0.8},
   "encoding": {"x": {"field": "lo", "type": "quantitative", "axis": null}, "x2": {"field": "hi"}, "y": {"field": "bl", "type": "quantitative", "axis": null}, "y2": {"field": "bh"}, "fill": {"datum": "A", "scale": {"domain": ["A","B","C"], "range": ["#9d9df2","#ffb3b3","#c4c4c4"]}, "legend": {"title": null, "symbolType": "square", "symbolSize": 180, "symbolStrokeWidth": 0, "orient": "none", "legendX": 193, "legendY": 75, "labelFontSize": 9, "labelLimit": 400, "rowPadding": 2, "padding": 0, "labelOffset": 3, "labelExpr": "datum.label == 'A' ? '⟨cos 2(Ψ₂(pₜᵃ)-Ψ₂)⟩ (lower limit)' : datum.label == 'B' ? '⟨v₂(pₜᵃ)v₂⟩/(⟨v₂²(pₜᵃ)⟩⟨v₂²⟩)¹/² (upper limit)' : 'v₂{2}/v₂[2]'"}}}},
  {"mark": {"type": "rule", "color": "#0000ff", "strokeWidth": 2},
   "encoding": {"x": {"field": "lo", "type": "quantitative", "axis": null}, "x2": {"field": "hi"}, "y": {"field": "b", "type": "quantitative", "axis": null}}},
  {"transform": [{"filter": "datum.lo == 0.2"}], "mark": {"type": "rule", "color": "black", "strokeWidth": 1.5, "strokeDash": [4, 3]},
   "encoding": {"y": {"datum": 1, "type": "quantitative", "axis": null}}},
  {"mark": {"type": "point", "shape": "diamond", "filled": true, "size": 55, "color": "#555555", "opacity": 1},
   "encoding": {"x": {"field": "x", "type": "quantitative", "axis": null}, "y": {"field": "g", "type": "quantitative", "axis": null}}},
  {"mark": {"type": "rule", "color": "#0000ff", "strokeWidth": 2, "xOffset": -3, "y2Offset": 10},
   "encoding": {"x": {"field": "x", "type": "quantitative", "axis": null}, "y": {"field": "bl", "type": "quantitative", "axis": null}, "y2": {"field": "bl"}}},
  {"mark": {"type": "point", "shape": "triangle-down", "filled": true, "size": 40, "color": "#0000ff", "opacity": 1, "xOffset": -3, "yOffset": 10},
   "encoding": {"x": {"field": "x", "type": "quantitative", "axis": null}, "y": {"field": "bl", "type": "quantitative", "axis": null}}},
  {"mark": {"type": "rule", "color": "#ff0000", "strokeWidth": 2, "xOffset": 3, "y2Offset": -10},
   "encoding": {"x": {"field": "x", "type": "quantitative", "axis": null}, "y": {"field": "rh", "type": "quantitative", "axis": null}, "y2": {"field": "rh"}}},
  {"mark": {"type": "point", "shape": "triangle-up", "filled": true, "size": 40, "color": "#ff0000", "opacity": 1, "xOffset": 3, "yOffset": -10},
   "encoding": {"x": {"field": "x", "type": "quantitative", "axis": null}, "y": {"field": "rh", "type": "quantitative", "axis": null}}},
  {"transform": [{"filter": "datum.lo == 0.2"}], "mark": {"type": "text", "align": "right", "baseline": "middle", "fontSize": 12.5},
   "encoding": {"x": {"datum": 3.82, "type": "quantitative", "axis": null}, "y": {"datum": 1.091, "type": "quantitative", "axis": null}, "text": {"field": "c"}}}
 ]
}
],
"config": {
 "font": "Liberation Sans",
 "view": {"stroke": "black", "strokeWidth": 1.5},
 "text": {"font": "Liberation Sans", "color": "black"},
 "axis": {"domain": false, "grid": false, "tickColor": "black", "tickWidth": 1, "labelFont": "Liberation Sans", "titleFont": "Liberation Sans", "labelColor": "black", "titleColor": "black", "labelFontSize": 13, "titleFontSize": 14, "titleFontWeight": "normal", "labelFlush": false, "labelOverlap": false},
 "legend": {"labelFont": "Liberation Sans", "labelColor": "black"}
}
}
